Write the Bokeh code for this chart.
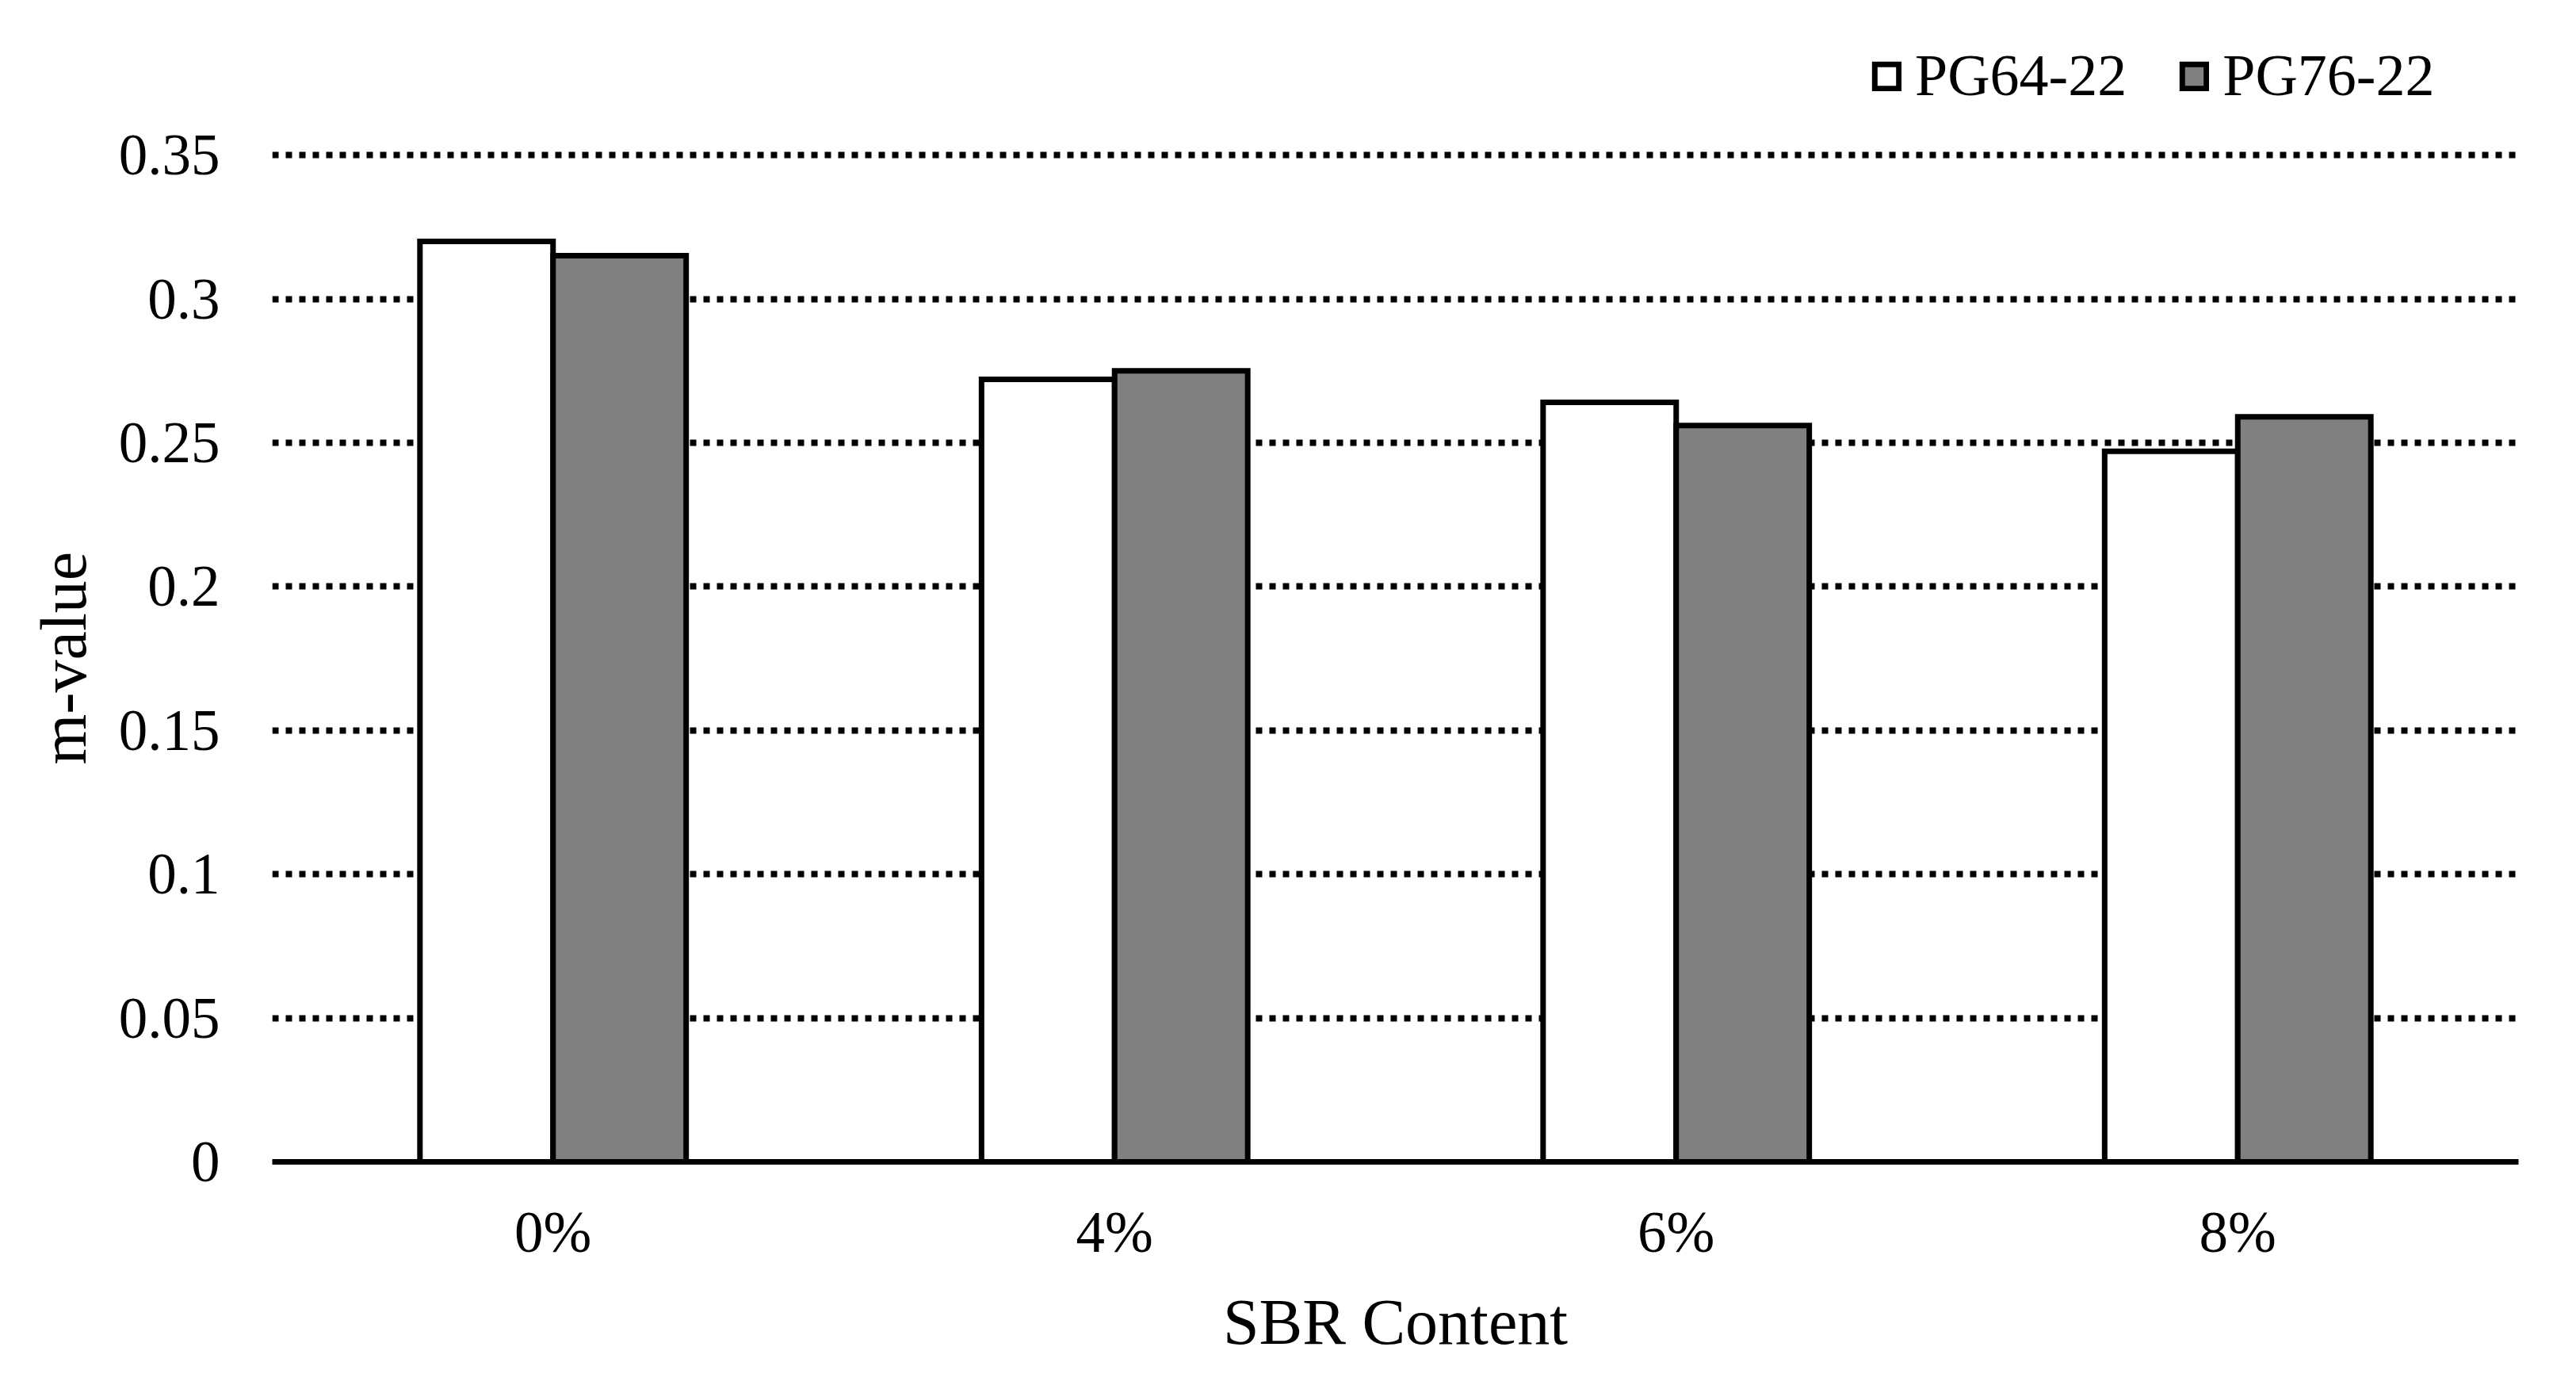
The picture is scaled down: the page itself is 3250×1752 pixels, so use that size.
from bokeh.plotting import figure
from bokeh.models import (FactorRange, Range1d, FixedTicker, Legend, LegendItem,
                          ColumnDataSource, Title)
from bokeh.transform import dodge
from bokeh.embed import file_html
from bokeh.resources import INLINE

# ---- data ----
categories = ["0%", "4%", "6%", "8%"]
series_names = ["PG64-22", "PG76-22"]
pg64_22 = [0.320, 0.272, 0.264, 0.247]
pg76_22 = [0.315, 0.275, 0.256, 0.259]
y_ticks = [0, 0.05, 0.1, 0.15, 0.2, 0.25, 0.3, 0.35]
y_tick_labels = ["0", "0.05", "0.1", "0.15", "0.2", "0.25", "0.3", "0.35"]
x_title = "SBR Content"
y_title = "m-value"

FONT = "Liberation Serif"

source = ColumnDataSource(dict(cat=categories, a=pg64_22, b=pg76_22))

# frame extends above 0.35 (invisible) so the legend sits inside it
p = figure(x_range=FactorRange(factors=categories, range_padding=0),
           y_range=Range1d(0, 0.3955),
           width=3234, height=1736, output_backend="svg", toolbar_location=None,
           min_border_left=343, min_border_right=57,
           min_border_top=30, min_border_bottom=271)
p.outline_line_color = None
p.background_fill_color = "white"
p.border_fill_color = "white"

r1 = p.vbar(x=dodge("cat", -0.1185, range=p.x_range), top="a", width=0.237,
            source=source, fill_color="white", line_color="black",
            line_width=7, line_join="miter")
r2 = p.vbar(x=dodge("cat", 0.1185, range=p.x_range), top="b", width=0.237,
            source=source, fill_color="#808080", line_color="black",
            line_width=7, line_join="miter")

# x axis
xa = p.xaxis[0]
xa.axis_line_color = "black"
xa.axis_line_width = 7
xa.major_tick_line_color = None
xa.minor_tick_line_color = None
xa.major_label_text_font = FONT
xa.major_label_text_font_size = "73px"
xa.major_label_text_color = "black"
xa.major_label_standoff = 42
xa.axis_label = x_title
xa.axis_label_text_font = FONT
xa.axis_label_text_font_size = "82px"
xa.axis_label_text_font_style = "normal"
xa.axis_label_text_color = "black"
xa.axis_label_standoff = 24

# y axis
ticker = FixedTicker(ticks=y_ticks)
ya = p.yaxis[0]
ya.ticker = ticker
ya.bounds = (y_ticks[0], y_ticks[-1])
ya.major_label_overrides = {t: l for t, l in zip(y_ticks, y_tick_labels)}
ya.axis_line_color = None
ya.major_tick_line_color = None
ya.minor_tick_line_color = None
ya.major_label_text_font = FONT
ya.major_label_text_font_size = "73px"
ya.major_label_text_color = "black"
ya.major_label_standoff = 60

# y-axis title, centred on the 0..0.35 span (not on the taller frame)
ytitle = Title(text=y_title, align="left", offset=501, standoff=42,
               text_font=FONT, text_font_size="82px", text_font_style="normal",
               text_color="black")
p.add_layout(ytitle, "left")

p.xgrid.grid_line_color = None
p.ygrid.ticker = ticker
p.ygrid.grid_line_color = "black"
p.ygrid.grid_line_width = 8
p.ygrid.grid_line_dash = "8 9"

legend = Legend(items=[LegendItem(label=series_names[0], renderers=[r1]),
                       LegendItem(label=series_names[1], renderers=[r2])],
                location=(2018, 1327), orientation="horizontal",
                glyph_width=38, glyph_height=38, label_standoff=17,
                spacing=66, padding=0, margin=0,
                border_line_color=None, background_fill_alpha=0,
                label_text_font=FONT, label_text_font_size="74px",
                label_text_color="black")
p.add_layout(legend)

open("out.html", "w").write(file_html(p, INLINE))
